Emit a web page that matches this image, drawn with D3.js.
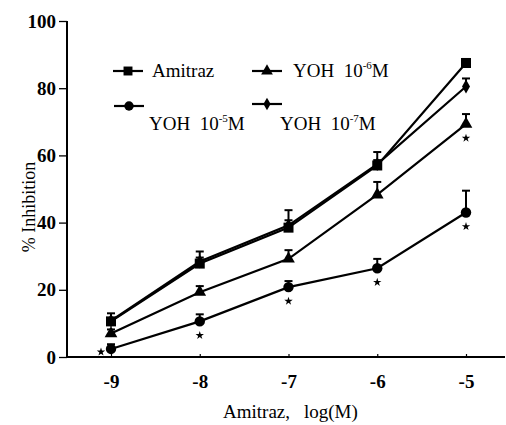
<!DOCTYPE html>
<html>
<head>
<meta charset="utf-8">
<script src="https://cdn.jsdelivr.net/npm/d3@7"></script>
<style>
  body { margin: 0; background: #fff; }
  svg { display: block; }
</style>
</head>
<body>
<div id="chart"></div>
<script>
// log(M) of amitraz
var doses = [-9, -8, -7, -6, -5];

// % inhibition
var amitraz   = [10.6, 27.8, 38.5, 57.0, 87.5];
var amitrazSe = [2.4, 3.6, 5.2, 4.0, 1.2];
var yoh6      = [7.0, 19.3, 29.2, 48.3, 69.3];
var yoh6Se    = [1.2, 1.8, 2.6, 3.8, 3.0];
var yoh5      = [2.4, 10.6, 20.8, 26.4, 43.0];
var yoh5Se    = [1.4, 2.1, 1.8, 2.8, 6.5];
var yoh7      = [10.8, 28.4, 39.2, 57.4, 80.5];
var yoh7Se    = [0.8, 1.2, 1.5, 1.2, 2.4];

// significance marks (*)
var yoh5Sig = [true, true, true, true, true];
var yoh6Sig = [false, false, false, false, true];

var yTicks = [0, 20, 40, 60, 80, 100];

var width = 506, height = 425;
var serif = "Liberation Serif";

var svg = d3.select("#chart").append("svg")
  .attr("width", width)
  .attr("height", height);

var x = d3.scaleLinear().domain([-9, -5]).range([111, 466]);
var y = d3.scaleLinear().domain([0, 100]).range([357, 21]);

// y axis
var yAxis = svg.append("g")
  .attr("transform", "translate(67,0)")
  .call(d3.axisLeft(y).tickValues(yTicks).tickSizeInner(8).tickSizeOuter(0).tickPadding(3));
yAxis.select(".domain").remove();
yAxis.selectAll(".tick line").attr("stroke", "#000").attr("stroke-width", 1.3);
yAxis.selectAll(".tick text")
  .style("font-family", serif)
  .style("font-size", "19px").style("font-weight", "bold");
svg.append("line")
  .attr("x1", 67).attr("x2", 67)
  .attr("y1", y(100)).attr("y2", y(0))
  .attr("stroke", "#000").attr("stroke-width", 2);

// x axis, ticks pointing up
var xAxis = svg.append("g")
  .attr("transform", "translate(0," + y(0) + ")")
  .call(d3.axisBottom(x).tickValues(doses).tickSizeInner(-3).tickSizeOuter(0).tickPadding(18)
    .tickFormat(function(d){ return "-" + Math.abs(d); }));
xAxis.select(".domain").remove();
xAxis.selectAll(".tick line").attr("stroke", "#000").attr("stroke-width", 1.2);
xAxis.selectAll(".tick text")
  .style("font-family", serif)
  .style("font-size", "19px").style("font-weight", "bold");
svg.append("line")
  .attr("x1", 67).attr("x2", 505)
  .attr("y1", y(0)).attr("y2", y(0))
  .attr("stroke", "#000").attr("stroke-width", 2);

// axis titles
var xt = svg.append("text")
  .attr("x", 223).attr("y", 418)
  .style("font-family", serif)
  .style("font-size", "19px");
xt.append("tspan").text("Amitraz,");
xt.append("tspan").attr("dx", 14).text("log(M)");
svg.append("text")
  .attr("transform", "translate(35,207) rotate(-90)")
  .attr("text-anchor", "middle")
  .style("font-family", serif)
  .style("font-size", "18px")
  .text("% Inhibition");

var series = [
  {vals: yoh5, se: yoh5Se, sym: d3.symbolCircle, size: 85},
  {vals: yoh6, se: yoh6Se, sym: d3.symbolTriangle, size: 70},
  {vals: yoh7, se: yoh7Se, sym: d3.symbolDiamond, size: 55},
  {vals: amitraz, se: amitrazSe, sym: d3.symbolSquare, size: 100}
];

var line = d3.line()
  .x(function(d, i){ return x(doses[i]); })
  .y(function(d){ return y(d); });

series.forEach(function(s){
  var g = svg.append("g");
  g.append("path")
    .attr("d", line(s.vals))
    .attr("fill", "none")
    .attr("stroke", "#000")
    .attr("stroke-width", 2.2);
  // upper error bars
  s.vals.forEach(function(v, i){
    var cx = x(doses[i]);
    g.append("line")
      .attr("x1", cx).attr("x2", cx)
      .attr("y1", y(v)).attr("y2", y(v + s.se[i]))
      .attr("stroke", "#000").attr("stroke-width", 2);
    g.append("line")
      .attr("x1", cx - 4).attr("x2", cx + 4)
      .attr("y1", y(v + s.se[i])).attr("y2", y(v + s.se[i]))
      .attr("stroke", "#000").attr("stroke-width", 2);
  });
  g.selectAll(".pt")
    .data(s.vals)
    .enter().append("path")
    .attr("d", d3.symbol().type(s.sym).size(s.size))
    .attr("transform", function(d, i){ return "translate(" + x(doses[i]) + "," + y(d) + ")"; })
    .attr("fill", "#000");
});

// asterisks
function stars(vals, sig){
  vals.forEach(function(v, i){
    if (!sig[i]) return;
    var sx = x(doses[i]), sy = y(v) + 14;
    if (i === 0) { sx = x(doses[i]) - 10; sy = y(v) + 3; }
    svg.append("path")
      .attr("d", d3.symbol().type(d3.symbolStar).size(22))
      .attr("transform", "translate(" + sx + "," + sy + ")")
      .attr("fill", "#000");
  });
}
stars(yoh5, yoh5Sig);
stars(yoh6, yoh6Sig);

// legend
var legendNames = [
  {base: "Amitraz", exp: null},
  {base: "YOH  10", exp: "-6", unit: "M"},
  {base: "YOH  10", exp: "-5", unit: "M"},
  {base: "YOH  10", exp: "-7", unit: "M"}
];
var legendSyms = [
  {sym: d3.symbolSquare, size: 80},
  {sym: d3.symbolTriangle, size: 60},
  {sym: d3.symbolCircle, size: 70},
  {sym: d3.symbolDiamond, size: 45}
];
var legendPos = [
  {lx: 113, ly: 71, tx: 152, ty: 77},
  {lx: 252, ly: 71, tx: 293, ty: 77},
  {lx: 114, ly: 106, tx: 149, ty: 130},
  {lx: 252, ly: 104, tx: 280, ty: 130}
];

legendNames.forEach(function(n, i){
  var p = legendPos[i];
  svg.append("line")
    .attr("x1", p.lx).attr("x2", p.lx + 30)
    .attr("y1", p.ly).attr("y2", p.ly)
    .attr("stroke", "#000").attr("stroke-width", 2.2);
  svg.append("path")
    .attr("d", d3.symbol().type(legendSyms[i].sym).size(legendSyms[i].size))
    .attr("transform", "translate(" + (p.lx + 15) + "," + p.ly + ")")
    .attr("fill", "#000");
  var t = svg.append("text")
    .attr("x", p.tx).attr("y", p.ty)
    .attr("xml:space", "preserve")
    .style("font-family", serif)
    .style("font-size", "19px");
  t.append("tspan").text(n.base);
  if (n.exp) {
    t.append("tspan").attr("dy", -8).style("font-size", "11px").text(n.exp);
    t.append("tspan").attr("dy", 8).text(n.unit);
  }
});
</script>
</body>
</html>
